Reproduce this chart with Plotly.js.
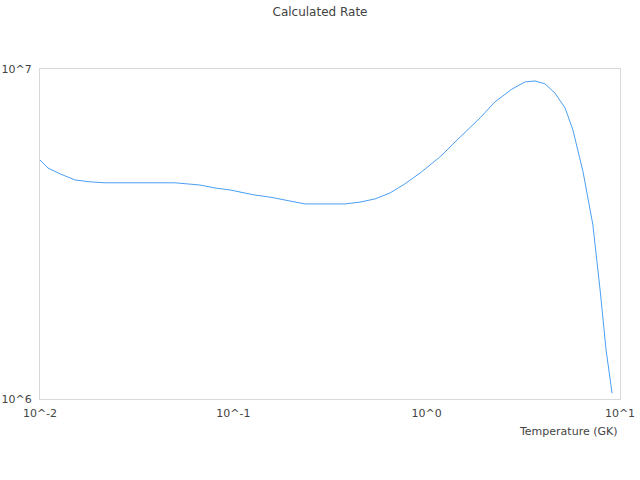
<!DOCTYPE html>
<html>
<head>
<meta charset="utf-8">
<script src="https://cdn.plot.ly/plotly-3.0.1.min.js"></script>
<style>html,body{margin:0;padding:0;background:#fff;}#chart{width:640px;height:480px;}</style>
</head>
<body>
<div id="chart"></div>
<script>
// Temperature (GK)
var temperature = [0.01, 0.011, 0.0127, 0.0152, 0.0182, 0.0217, 0.0292, 0.05, 0.0673, 0.0804, 0.0961, 0.129, 0.155, 0.185, 0.235, 0.281, 0.378, 0.452, 0.541, 0.646, 0.773, 0.925, 1.17, 1.49, 1.89, 2.25, 2.76, 3.23, 3.63, 4.09, 4.61, 5.20, 5.71, 6.44, 7.24, 7.89, 8.47, 9.10];
// Calculated rate
var rate = [5.30e6, 5.01e6, 4.81e6, 4.61e6, 4.55e6, 4.52e6, 4.52e6, 4.52e6, 4.45e6, 4.36e6, 4.30e6, 4.15e6, 4.09e6, 4.01e6, 3.90e6, 3.90e6, 3.90e6, 3.95e6, 4.04e6, 4.21e6, 4.49e6, 4.84e6, 5.41e6, 6.22e6, 7.11e6, 7.94e6, 8.69e6, 9.14e6, 9.20e6, 9.02e6, 8.45e6, 7.62e6, 6.53e6, 4.88e6, 3.37e6, 2.14e6, 1.41e6, 1.04e6];
var xTickVals = [0.01, 0.1, 1, 10];
var xTickText = ["10^-2", "10^-1", "10^0", "10^1"];
var yTickVals = [1e6, 1e7];
var yTickText = ["10^6", "10^7"];

var font = "DejaVu Sans, sans-serif";
var textColor = "#444444";

Plotly.newPlot("chart", [{
  x: temperature,
  y: rate,
  type: "scatter",
  mode: "lines",
  line: {color: "#4a9ff5", width: 1},
  hoverinfo: "skip"
}], {
  width: 640, height: 480,
  margin: {l: 40, r: 20, t: 69, b: 81},
  paper_bgcolor: "#ffffff",
  plot_bgcolor: "#ffffff",
  showlegend: false,
  title: {text: "Calculated Rate", x: 0.5, xanchor: "center", y: 0.975, yanchor: "middle", font: {family: font, size: 12, color: textColor}},
  xaxis: {
    type: "log",
    range: [-2, 1],
    tickvals: xTickVals,
    ticktext: xTickText,
    showgrid: false,
    zeroline: false,
    showline: true,
    linecolor: "#d9d9d9",
    linewidth: 1,
    mirror: true,
    ticks: "",
    ticklabelstandoff: 4,
    tickfont: {family: font, size: 11, color: textColor}
  },
  yaxis: {
    type: "log",
    range: [6, 7],
    tickvals: yTickVals,
    ticktext: yTickText,
    showgrid: false,
    zeroline: false,
    showline: true,
    linecolor: "#d9d9d9",
    linewidth: 1,
    mirror: true,
    ticks: "",
    ticklabelstandoff: 5,
    tickfont: {family: font, size: 11, color: textColor}
  },
  annotations: [{
    text: "Temperature (GK)",
    xref: "paper", yref: "paper",
    x: 1, y: -0.097,
    xanchor: "right", yanchor: "middle",
    showarrow: false,
    font: {family: font, size: 11, color: textColor}
  }]
}, {displayModeBar: false, staticPlot: true});
</script>
</body>
</html>
